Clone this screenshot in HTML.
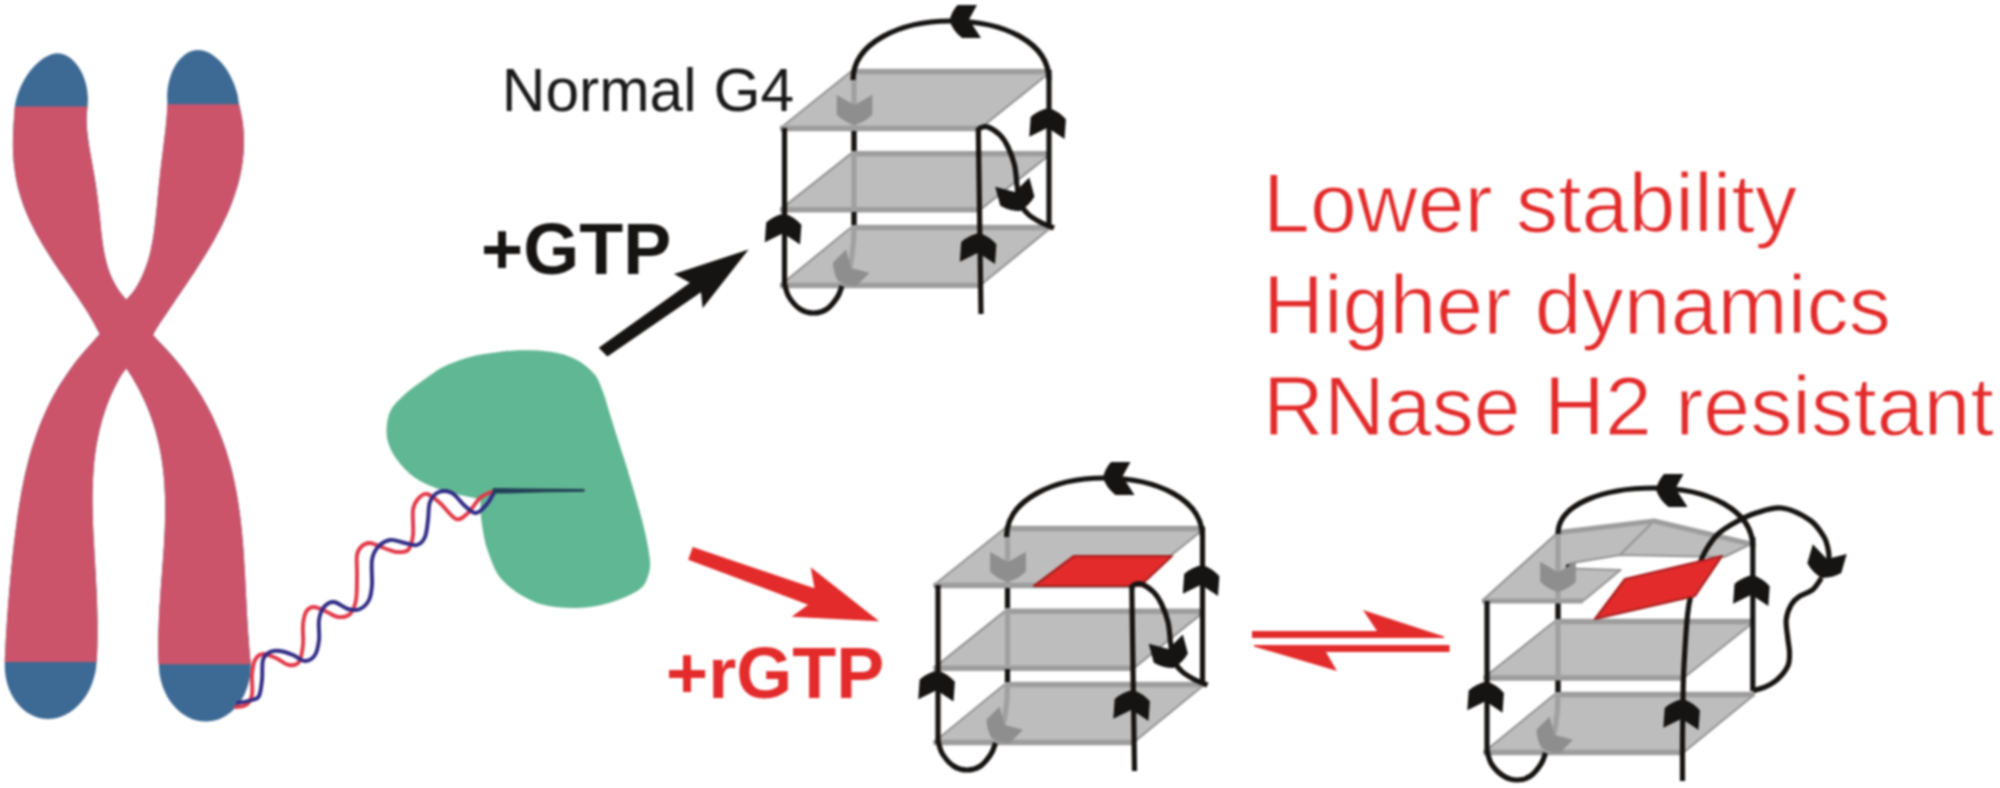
<!DOCTYPE html><html><head><meta charset="utf-8"><style>html,body{margin:0;padding:0;background:#fff;}svg{display:block;filter:blur(0.8px);}</style></head><body>
<svg width="2000" height="788" viewBox="0 0 2000 788">
<rect width="2000" height="788" fill="#fff"/>
<defs><clipPath id="cpink"><rect x="0" y="106.5" width="126.5" height="555.5"/><rect x="126.5" y="104.3" width="180" height="560"/></clipPath></defs>
<path d="M57.7,53.2C56.7,53.4 53.8,53.6 51.6,54.3C49.5,55.1 47,56.2 44.6,57.6C42.3,59.1 39.9,60.9 37.6,63C35.3,65.1 33,67.5 30.9,70.1C28.8,72.7 26.8,75.6 25,78.5C23.2,81.5 21.5,84.7 20.2,87.8C18.8,91 17.6,94.4 16.7,97.4C15.8,100.4 15.3,103.2 14.9,106C14.5,108.8 14.5,111.4 14.3,114.1C14.1,116.9 13.9,119.6 13.7,122.3C13.5,125 13.4,127.7 13.3,130.4C13.1,133.1 13,135.9 13,138.6C12.9,141.3 12.9,144 12.9,146.7C13,149.4 13.1,152.1 13.2,154.9C13.3,157.6 13.5,160.3 13.8,163C14.1,165.7 14.4,168.4 14.8,171.1C15.2,173.9 15.6,176.6 16.1,179.3C16.7,182 17.3,184.7 17.9,187.4C18.6,190.1 19.4,192.9 20.2,195.6C21,198.3 21.9,201 22.8,203.7C23.8,206.4 24.9,209.1 26,211.9C27.1,214.6 28.3,217.3 29.5,220C30.8,222.7 32.1,225.4 33.5,228.1C34.8,230.9 36.3,233.6 37.8,236.3C39.3,239 40.9,241.7 42.5,244.4C44.1,247.1 45.8,249.9 47.5,252.6C49.2,255.3 50.9,258 52.7,260.7C54.5,263.4 56.3,266.1 58.2,268.9C60,271.6 61.9,274.3 63.8,277C65.6,279.7 67.5,282.4 69.4,285.1C71.3,287.9 73.2,290.6 75,293.3C76.9,296 78.7,298.7 80.5,301.4C82.3,304.1 84.1,306.9 85.8,309.6C87.6,312.3 89.2,315 90.8,317.7C92.4,320.4 93.9,323.1 95.4,325.9C96.9,328.6 99,332.6 99.7,334C98.5,335.4 95,339.5 92.5,342.2C90.1,344.9 87.5,347.6 85.1,350.4C82.7,353.1 80.5,355.8 78.3,358.6C76.1,361.3 74,364 72,366.7C70,369.5 68,372.2 66.2,374.9C64.3,377.7 62.6,380.4 60.9,383.1C59.2,385.8 57.5,388.6 56,391.3C54.4,394 52.9,396.8 51.5,399.5C50.1,402.2 48.7,404.9 47.4,407.7C46.1,410.4 44.9,413.1 43.7,415.9C42.5,418.6 41.4,421.3 40.3,424C39.2,426.8 38.2,429.5 37.2,432.2C36.2,434.9 35.3,437.7 34.4,440.4C33.5,443.1 32.6,445.9 31.8,448.6C31,451.3 30.2,454 29.4,456.8C28.7,459.5 28,462.2 27.3,465C26.6,467.7 26,470.4 25.3,473.1C24.7,475.9 24.1,478.6 23.6,481.3C23,484.1 22.5,486.8 21.9,489.5C21.4,492.2 20.9,495 20.5,497.7C20,500.4 19.5,503.2 19.1,505.9C18.6,508.6 18.2,511.3 17.8,514.1C17.4,516.8 17,519.5 16.7,522.3C16.3,525 15.9,527.7 15.6,530.4C15.2,533.2 14.9,535.9 14.6,538.6C14.2,541.4 13.9,544.1 13.6,546.8C13.3,549.5 13,552.3 12.7,555C12.4,557.7 12.1,560.5 11.9,563.2C11.6,565.9 11.3,568.6 11.1,571.4C10.8,574.1 10.6,576.8 10.3,579.5C10.1,582.3 9.8,585 9.6,587.7C9.3,590.5 9.1,593.2 8.9,595.9C8.7,598.6 8.4,601.4 8.2,604.1C8,606.8 7.8,609.6 7.6,612.3C7.4,615 7.2,617.7 7,620.5C6.8,623.2 6.6,625.9 6.5,628.7C6.3,631.4 6.1,634.1 6,636.8C5.8,639.6 5.7,642.3 5.5,645C5.4,647.8 5.2,650.5 5.1,653.2C5,655.9 4.8,658.2 4.8,661.4C4.8,664.6 4.7,669 5.1,672.6C5.5,676.3 6.2,680 7.2,683.4C8.2,686.9 9.5,690.3 11,693.4C12.5,696.5 14.3,699.5 16.3,702.1C18.3,704.8 20.5,707.2 22.9,709.3C25.3,711.4 27.9,713.2 30.6,714.6C33.3,716 36.2,717.2 39.1,717.9C42,718.6 45,719 48,719C51,719 54.1,718.6 57,717.9C60,717.2 63,716 65.8,714.6C68.6,713.2 71.4,711.4 74,709.3C76.6,707.2 79.1,704.8 81.3,702.1C83.5,699.5 85.6,696.5 87.4,693.4C89.2,690.3 90.8,686.9 92.1,683.4C93.4,680 94.5,676.3 95.3,672.6C96,669 96.4,664.6 96.7,661.4C97,658.2 97,656 97.1,653.3C97.2,650.5 97.3,647.8 97.4,645.1C97.4,642.4 97.5,639.7 97.5,637C97.5,634.3 97.5,631.5 97.5,628.8C97.5,626.1 97.5,623.4 97.5,620.7C97.4,618 97.4,615.2 97.3,612.5C97.3,609.8 97.2,607.1 97.1,604.4C97,601.7 96.9,599 96.8,596.2C96.7,593.5 96.5,590.8 96.4,588.1C96.3,585.4 96.1,582.7 96,580C95.9,577.2 95.7,574.5 95.6,571.8C95.4,569.1 95.2,566.4 95.1,563.7C94.9,561 94.8,558.2 94.6,555.5C94.5,552.8 94.3,550.1 94.2,547.4C94,544.7 93.9,541.9 93.7,539.2C93.6,536.5 93.4,533.8 93.3,531.1C93.2,528.4 93.1,525.7 93,522.9C92.9,520.2 92.8,517.5 92.7,514.8C92.7,512.1 92.6,509.4 92.6,506.7C92.5,503.9 92.5,501.2 92.5,498.5C92.5,495.8 92.6,493.1 92.6,490.4C92.7,487.7 92.8,484.9 92.9,482.2C93,479.5 93.1,476.8 93.3,474.1C93.5,471.4 93.7,468.6 93.9,465.9C94.1,463.2 94.4,460.5 94.7,457.8C95.1,455.1 95.4,452.4 95.8,449.6C96.2,446.9 96.7,444.2 97.2,441.5C97.7,438.8 98.2,436.1 98.8,433.4C99.4,430.6 100.1,427.9 100.8,425.2C101.5,422.5 102.2,419.8 103.1,417.1C103.9,414.4 104.8,411.6 105.7,408.9C106.7,406.2 107.7,403.5 108.8,400.8C109.9,398.1 111,395.3 112.3,392.6C113.5,389.9 114.8,387.2 116.2,384.5C117.6,381.8 118.9,379.1 120.6,376.3C122.3,373.6 125.3,369.6 126.3,368.2C127.2,369.5 129.8,373.5 131.5,376.2C133.1,378.9 134.6,381.5 136.1,384.2C137.6,386.9 139,389.5 140.4,392.2C141.7,394.9 143,397.6 144.2,400.2C145.4,402.9 146.6,405.6 147.7,408.2C148.8,410.9 149.8,413.6 150.7,416.2C151.7,418.9 152.6,421.6 153.5,424.2C154.3,426.9 155.1,429.6 155.9,432.2C156.6,434.9 157.3,437.6 157.9,440.2C158.6,442.9 159.1,445.6 159.7,448.3C160.2,450.9 160.7,453.6 161.2,456.3C161.6,458.9 162,461.6 162.4,464.3C162.8,466.9 163.1,469.6 163.4,472.3C163.7,474.9 163.9,477.6 164.1,480.3C164.3,482.9 164.5,485.6 164.6,488.3C164.8,490.9 164.9,493.6 165,496.3C165.1,499 165.1,501.6 165.2,504.3C165.2,507 165.2,509.6 165.2,512.3C165.1,515 165.1,517.6 165,520.3C165,523 164.9,525.6 164.8,528.3C164.7,531 164.6,533.6 164.4,536.3C164.3,539 164.2,541.7 164,544.3C163.8,547 163.7,549.7 163.5,552.3C163.3,555 163.1,557.7 162.9,560.3C162.7,563 162.5,565.7 162.3,568.3C162.1,571 161.9,573.7 161.7,576.3C161.5,579 161.3,581.7 161.1,584.3C160.9,587 160.7,589.7 160.5,592.4C160.3,595 160.1,597.7 160,600.4C159.8,603 159.6,605.7 159.4,608.4C159.3,611 159.1,613.7 159,616.4C158.9,619 158.8,621.7 158.7,624.4C158.6,627 158.5,629.7 158.4,632.4C158.3,635 158.3,637.7 158.3,640.4C158.3,643.1 158.3,645.7 158.3,648.4C158.3,651.1 158.4,653.7 158.4,656.4C158.5,659.1 158.5,661.2 158.8,664.4C159,667.6 159.2,671.9 159.8,675.6C160.5,679.2 161.4,682.9 162.6,686.3C163.8,689.7 165.3,693.1 167,696.2C168.8,699.3 170.7,702.2 172.9,704.8C175.1,707.5 177.5,709.9 180,712C182.5,714 185.2,715.8 188,717.2C190.8,718.7 193.8,719.8 196.7,720.5C199.7,721.2 202.7,721.6 205.7,721.6C208.7,721.6 211.7,721.2 214.7,720.5C217.6,719.8 220.5,718.7 223.2,717.2C226,715.8 228.7,714 231.1,712C233.6,709.9 235.9,707.5 238,704.8C240,702.2 241.9,699.3 243.6,696.2C245.2,693.1 246.6,689.7 247.6,686.3C248.7,682.9 249.6,679.2 250.1,675.6C250.6,671.9 250.8,667.6 250.8,664.4C250.8,661.2 250.3,659 250,656.4C249.8,653.7 249.5,651 249.3,648.3C249.1,645.7 248.9,643 248.7,640.3C248.5,637.6 248.3,634.9 248.1,632.3C247.9,629.6 247.8,626.9 247.6,624.2C247.4,621.6 247.3,618.9 247.1,616.2C247,613.5 246.8,610.8 246.7,608.2C246.6,605.5 246.4,602.8 246.3,600.1C246.1,597.4 246,594.8 245.9,592.1C245.7,589.4 245.6,586.7 245.5,584.1C245.3,581.4 245.2,578.7 245.1,576C244.9,573.3 244.8,570.7 244.6,568C244.4,565.3 244.3,562.6 244.1,560C243.9,557.3 243.8,554.6 243.6,551.9C243.4,549.2 243.2,546.6 243,543.9C242.7,541.2 242.5,538.5 242.3,535.9C242,533.2 241.8,530.5 241.5,527.8C241.2,525.1 240.9,522.5 240.6,519.8C240.3,517.1 239.9,514.4 239.6,511.8C239.2,509.1 238.8,506.4 238.4,503.7C238,501 237.6,498.4 237.1,495.7C236.6,493 236.1,490.3 235.6,487.6C235.1,485 234.5,482.3 233.9,479.6C233.3,476.9 232.7,474.3 232.1,471.6C231.4,468.9 230.7,466.2 230,463.5C229.2,460.9 228.5,458.2 227.6,455.5C226.8,452.8 226,450.2 225.1,447.5C224.2,444.8 223.2,442.1 222.2,439.4C221.2,436.8 220.2,434.1 219.1,431.4C218,428.7 216.8,426.1 215.6,423.4C214.4,420.7 213.2,418 211.9,415.3C210.6,412.7 209.2,410 207.8,407.3C206.3,404.6 204.9,402 203.3,399.3C201.8,396.6 200.2,393.9 198.5,391.2C196.8,388.6 195.1,385.9 193.2,383.2C191.4,380.5 189.6,377.8 187.6,375.2C185.6,372.5 183.6,369.8 181.5,367.1C179.4,364.5 177.2,361.8 175,359.1C172.7,356.4 170.4,353.7 168,351.1C165.5,348.4 162.9,345.7 160.4,343C158,340.4 154.2,336.3 153,335C153.8,333.6 156,329.5 157.7,326.8C159.4,324 161.3,321.2 163.1,318.5C165,315.8 166.8,313 168.7,310.2C170.5,307.5 172.4,304.8 174.3,302C176.1,299.2 178,296.5 179.9,293.8C181.8,291 183.6,288.2 185.5,285.5C187.3,282.8 189.2,280 191,277.2C192.9,274.5 194.7,271.8 196.5,269C198.2,266.2 200,263.5 201.7,260.8C203.5,258 205.2,255.2 206.8,252.5C208.5,249.8 210.1,247 211.7,244.2C213.3,241.5 214.8,238.8 216.3,236C217.8,233.2 219.3,230.5 220.7,227.8C222.1,225 223.5,222.2 224.7,219.5C226,216.8 227.3,214 228.5,211.2C229.6,208.5 230.8,205.8 231.8,203C232.9,200.2 233.9,197.5 234.8,194.8C235.7,192 236.6,189.2 237.4,186.5C238.2,183.8 238.9,181 239.6,178.2C240.2,175.5 240.8,172.8 241.3,170C241.8,167.2 242.3,164.5 242.6,161.8C243,159 243.3,156.2 243.5,153.5C243.7,150.8 243.9,148 243.9,145.2C244,142.5 244,139.8 243.9,137C243.8,134.2 243.6,131.5 243.4,128.8C243.1,126 242.8,123.2 242.4,120.5C242,117.8 241.5,115 240.9,112.2C240.4,109.5 239.6,107 239,104C238.4,101 238.2,97.6 237.4,94.3C236.6,91.1 235.5,87.6 234.3,84.4C233,81.1 231.5,77.9 229.9,74.9C228.3,71.9 226.4,69.1 224.5,66.5C222.5,63.9 220.4,61.6 218.2,59.5C216.1,57.5 213.7,55.7 211.5,54.3C209.2,52.9 206.8,51.8 204.5,51.1C202.3,50.4 200.1,50 198,50C195.9,50 193.8,50.4 191.7,51.1C189.6,51.8 187.4,52.9 185.4,54.3C183.4,55.7 181.4,57.5 179.6,59.5C177.8,61.6 176.2,63.9 174.7,66.5C173.3,69.1 171.9,71.9 170.9,74.9C169.8,77.9 169,81.1 168.3,84.4C167.7,87.6 167.3,91.1 167.2,94.3C167,97.6 167.4,101 167.4,104C167.3,107 167.2,109.4 167,112.2C166.8,114.9 166.6,117.6 166.4,120.3C166.1,123 165.9,125.7 165.6,128.5C165.3,131.2 165,133.9 164.6,136.6C164.3,139.3 164,142.1 163.6,144.8C163.3,147.5 162.9,150.2 162.6,152.9C162.3,155.6 161.9,158.4 161.6,161.1C161.3,163.8 160.9,166.5 160.6,169.2C160.3,172 160,174.7 159.7,177.4C159.4,180.1 159.1,182.8 158.8,185.5C158.6,188.3 158.3,191 158,193.7C157.8,196.4 157.5,199.1 157.3,201.8C157,204.6 156.7,207.3 156.5,210C156.2,212.7 155.9,215.4 155.6,218.2C155.3,220.9 155,223.6 154.7,226.3C154.4,229 154,231.7 153.6,234.5C153.2,237.2 152.8,239.9 152.2,242.6C151.7,245.3 151.2,248.1 150.6,250.8C149.9,253.5 149.3,256.2 148.5,258.9C147.7,261.6 146.8,264.4 145.8,267.1C144.8,269.8 143.8,272.5 142.5,275.2C141.3,278 139.9,280.7 138.4,283.4C136.9,286.1 135.4,288.8 133.4,291.5C131.4,294.3 127.5,298.3 126.3,299.7C125.2,298.4 121.6,294.3 119.6,291.6C117.7,288.9 116.1,286.2 114.7,283.6C113.2,280.9 112,278.2 110.8,275.5C109.7,272.8 108.7,270.1 107.9,267.4C107,264.7 106.3,262 105.7,259.3C105,256.7 104.5,254 104,251.3C103.5,248.6 103.1,245.9 102.7,243.2C102.3,240.5 102,237.8 101.7,235.1C101.3,232.4 101.1,229.8 100.8,227.1C100.5,224.4 100.2,221.7 100,219C99.7,216.3 99.4,213.6 99.1,210.9C98.8,208.2 98.5,205.5 98.2,202.8C97.9,200.2 97.6,197.5 97.2,194.8C96.8,192.1 96.5,189.4 96.1,186.7C95.7,184 95.2,181.3 94.8,178.6C94.4,175.9 93.9,173.3 93.4,170.6C93,167.9 92.5,165.2 92,162.5C91.5,159.8 91,157.1 90.6,154.4C90.1,151.7 89.6,149 89.2,146.4C88.8,143.7 88.4,141 88,138.3C87.7,135.6 87.4,132.9 87.1,130.2C86.9,127.5 86.7,124.8 86.7,122.1C86.6,119.5 86.6,116.8 86.8,114.1C86.9,111.4 87.4,108.8 87.6,106C87.8,103.2 88,100.4 87.9,97.4C87.7,94.4 87.4,91 86.8,87.8C86.2,84.7 85.3,81.5 84.2,78.5C83.2,75.6 81.8,72.7 80.4,70.1C78.9,67.5 77.2,65.1 75.4,63C73.6,60.9 71.7,59.1 69.7,57.6C67.7,56.2 65.5,55.1 63.5,54.3C61.5,53.6 58.7,53.4 57.7,53.2Z" fill="#3d6a94"/>
<path d="M57.7,53.2C56.7,53.4 53.8,53.6 51.6,54.3C49.5,55.1 47,56.2 44.6,57.6C42.3,59.1 39.9,60.9 37.6,63C35.3,65.1 33,67.5 30.9,70.1C28.8,72.7 26.8,75.6 25,78.5C23.2,81.5 21.5,84.7 20.2,87.8C18.8,91 17.6,94.4 16.7,97.4C15.8,100.4 15.3,103.2 14.9,106C14.5,108.8 14.5,111.4 14.3,114.1C14.1,116.9 13.9,119.6 13.7,122.3C13.5,125 13.4,127.7 13.3,130.4C13.1,133.1 13,135.9 13,138.6C12.9,141.3 12.9,144 12.9,146.7C13,149.4 13.1,152.1 13.2,154.9C13.3,157.6 13.5,160.3 13.8,163C14.1,165.7 14.4,168.4 14.8,171.1C15.2,173.9 15.6,176.6 16.1,179.3C16.7,182 17.3,184.7 17.9,187.4C18.6,190.1 19.4,192.9 20.2,195.6C21,198.3 21.9,201 22.8,203.7C23.8,206.4 24.9,209.1 26,211.9C27.1,214.6 28.3,217.3 29.5,220C30.8,222.7 32.1,225.4 33.5,228.1C34.8,230.9 36.3,233.6 37.8,236.3C39.3,239 40.9,241.7 42.5,244.4C44.1,247.1 45.8,249.9 47.5,252.6C49.2,255.3 50.9,258 52.7,260.7C54.5,263.4 56.3,266.1 58.2,268.9C60,271.6 61.9,274.3 63.8,277C65.6,279.7 67.5,282.4 69.4,285.1C71.3,287.9 73.2,290.6 75,293.3C76.9,296 78.7,298.7 80.5,301.4C82.3,304.1 84.1,306.9 85.8,309.6C87.6,312.3 89.2,315 90.8,317.7C92.4,320.4 93.9,323.1 95.4,325.9C96.9,328.6 99,332.6 99.7,334C98.5,335.4 95,339.5 92.5,342.2C90.1,344.9 87.5,347.6 85.1,350.4C82.7,353.1 80.5,355.8 78.3,358.6C76.1,361.3 74,364 72,366.7C70,369.5 68,372.2 66.2,374.9C64.3,377.7 62.6,380.4 60.9,383.1C59.2,385.8 57.5,388.6 56,391.3C54.4,394 52.9,396.8 51.5,399.5C50.1,402.2 48.7,404.9 47.4,407.7C46.1,410.4 44.9,413.1 43.7,415.9C42.5,418.6 41.4,421.3 40.3,424C39.2,426.8 38.2,429.5 37.2,432.2C36.2,434.9 35.3,437.7 34.4,440.4C33.5,443.1 32.6,445.9 31.8,448.6C31,451.3 30.2,454 29.4,456.8C28.7,459.5 28,462.2 27.3,465C26.6,467.7 26,470.4 25.3,473.1C24.7,475.9 24.1,478.6 23.6,481.3C23,484.1 22.5,486.8 21.9,489.5C21.4,492.2 20.9,495 20.5,497.7C20,500.4 19.5,503.2 19.1,505.9C18.6,508.6 18.2,511.3 17.8,514.1C17.4,516.8 17,519.5 16.7,522.3C16.3,525 15.9,527.7 15.6,530.4C15.2,533.2 14.9,535.9 14.6,538.6C14.2,541.4 13.9,544.1 13.6,546.8C13.3,549.5 13,552.3 12.7,555C12.4,557.7 12.1,560.5 11.9,563.2C11.6,565.9 11.3,568.6 11.1,571.4C10.8,574.1 10.6,576.8 10.3,579.5C10.1,582.3 9.8,585 9.6,587.7C9.3,590.5 9.1,593.2 8.9,595.9C8.7,598.6 8.4,601.4 8.2,604.1C8,606.8 7.8,609.6 7.6,612.3C7.4,615 7.2,617.7 7,620.5C6.8,623.2 6.6,625.9 6.5,628.7C6.3,631.4 6.1,634.1 6,636.8C5.8,639.6 5.7,642.3 5.5,645C5.4,647.8 5.2,650.5 5.1,653.2C5,655.9 4.8,658.2 4.8,661.4C4.8,664.6 4.7,669 5.1,672.6C5.5,676.3 6.2,680 7.2,683.4C8.2,686.9 9.5,690.3 11,693.4C12.5,696.5 14.3,699.5 16.3,702.1C18.3,704.8 20.5,707.2 22.9,709.3C25.3,711.4 27.9,713.2 30.6,714.6C33.3,716 36.2,717.2 39.1,717.9C42,718.6 45,719 48,719C51,719 54.1,718.6 57,717.9C60,717.2 63,716 65.8,714.6C68.6,713.2 71.4,711.4 74,709.3C76.6,707.2 79.1,704.8 81.3,702.1C83.5,699.5 85.6,696.5 87.4,693.4C89.2,690.3 90.8,686.9 92.1,683.4C93.4,680 94.5,676.3 95.3,672.6C96,669 96.4,664.6 96.7,661.4C97,658.2 97,656 97.1,653.3C97.2,650.5 97.3,647.8 97.4,645.1C97.4,642.4 97.5,639.7 97.5,637C97.5,634.3 97.5,631.5 97.5,628.8C97.5,626.1 97.5,623.4 97.5,620.7C97.4,618 97.4,615.2 97.3,612.5C97.3,609.8 97.2,607.1 97.1,604.4C97,601.7 96.9,599 96.8,596.2C96.7,593.5 96.5,590.8 96.4,588.1C96.3,585.4 96.1,582.7 96,580C95.9,577.2 95.7,574.5 95.6,571.8C95.4,569.1 95.2,566.4 95.1,563.7C94.9,561 94.8,558.2 94.6,555.5C94.5,552.8 94.3,550.1 94.2,547.4C94,544.7 93.9,541.9 93.7,539.2C93.6,536.5 93.4,533.8 93.3,531.1C93.2,528.4 93.1,525.7 93,522.9C92.9,520.2 92.8,517.5 92.7,514.8C92.7,512.1 92.6,509.4 92.6,506.7C92.5,503.9 92.5,501.2 92.5,498.5C92.5,495.8 92.6,493.1 92.6,490.4C92.7,487.7 92.8,484.9 92.9,482.2C93,479.5 93.1,476.8 93.3,474.1C93.5,471.4 93.7,468.6 93.9,465.9C94.1,463.2 94.4,460.5 94.7,457.8C95.1,455.1 95.4,452.4 95.8,449.6C96.2,446.9 96.7,444.2 97.2,441.5C97.7,438.8 98.2,436.1 98.8,433.4C99.4,430.6 100.1,427.9 100.8,425.2C101.5,422.5 102.2,419.8 103.1,417.1C103.9,414.4 104.8,411.6 105.7,408.9C106.7,406.2 107.7,403.5 108.8,400.8C109.9,398.1 111,395.3 112.3,392.6C113.5,389.9 114.8,387.2 116.2,384.5C117.6,381.8 118.9,379.1 120.6,376.3C122.3,373.6 125.3,369.6 126.3,368.2C127.2,369.5 129.8,373.5 131.5,376.2C133.1,378.9 134.6,381.5 136.1,384.2C137.6,386.9 139,389.5 140.4,392.2C141.7,394.9 143,397.6 144.2,400.2C145.4,402.9 146.6,405.6 147.7,408.2C148.8,410.9 149.8,413.6 150.7,416.2C151.7,418.9 152.6,421.6 153.5,424.2C154.3,426.9 155.1,429.6 155.9,432.2C156.6,434.9 157.3,437.6 157.9,440.2C158.6,442.9 159.1,445.6 159.7,448.3C160.2,450.9 160.7,453.6 161.2,456.3C161.6,458.9 162,461.6 162.4,464.3C162.8,466.9 163.1,469.6 163.4,472.3C163.7,474.9 163.9,477.6 164.1,480.3C164.3,482.9 164.5,485.6 164.6,488.3C164.8,490.9 164.9,493.6 165,496.3C165.1,499 165.1,501.6 165.2,504.3C165.2,507 165.2,509.6 165.2,512.3C165.1,515 165.1,517.6 165,520.3C165,523 164.9,525.6 164.8,528.3C164.7,531 164.6,533.6 164.4,536.3C164.3,539 164.2,541.7 164,544.3C163.8,547 163.7,549.7 163.5,552.3C163.3,555 163.1,557.7 162.9,560.3C162.7,563 162.5,565.7 162.3,568.3C162.1,571 161.9,573.7 161.7,576.3C161.5,579 161.3,581.7 161.1,584.3C160.9,587 160.7,589.7 160.5,592.4C160.3,595 160.1,597.7 160,600.4C159.8,603 159.6,605.7 159.4,608.4C159.3,611 159.1,613.7 159,616.4C158.9,619 158.8,621.7 158.7,624.4C158.6,627 158.5,629.7 158.4,632.4C158.3,635 158.3,637.7 158.3,640.4C158.3,643.1 158.3,645.7 158.3,648.4C158.3,651.1 158.4,653.7 158.4,656.4C158.5,659.1 158.5,661.2 158.8,664.4C159,667.6 159.2,671.9 159.8,675.6C160.5,679.2 161.4,682.9 162.6,686.3C163.8,689.7 165.3,693.1 167,696.2C168.8,699.3 170.7,702.2 172.9,704.8C175.1,707.5 177.5,709.9 180,712C182.5,714 185.2,715.8 188,717.2C190.8,718.7 193.8,719.8 196.7,720.5C199.7,721.2 202.7,721.6 205.7,721.6C208.7,721.6 211.7,721.2 214.7,720.5C217.6,719.8 220.5,718.7 223.2,717.2C226,715.8 228.7,714 231.1,712C233.6,709.9 235.9,707.5 238,704.8C240,702.2 241.9,699.3 243.6,696.2C245.2,693.1 246.6,689.7 247.6,686.3C248.7,682.9 249.6,679.2 250.1,675.6C250.6,671.9 250.8,667.6 250.8,664.4C250.8,661.2 250.3,659 250,656.4C249.8,653.7 249.5,651 249.3,648.3C249.1,645.7 248.9,643 248.7,640.3C248.5,637.6 248.3,634.9 248.1,632.3C247.9,629.6 247.8,626.9 247.6,624.2C247.4,621.6 247.3,618.9 247.1,616.2C247,613.5 246.8,610.8 246.7,608.2C246.6,605.5 246.4,602.8 246.3,600.1C246.1,597.4 246,594.8 245.9,592.1C245.7,589.4 245.6,586.7 245.5,584.1C245.3,581.4 245.2,578.7 245.1,576C244.9,573.3 244.8,570.7 244.6,568C244.4,565.3 244.3,562.6 244.1,560C243.9,557.3 243.8,554.6 243.6,551.9C243.4,549.2 243.2,546.6 243,543.9C242.7,541.2 242.5,538.5 242.3,535.9C242,533.2 241.8,530.5 241.5,527.8C241.2,525.1 240.9,522.5 240.6,519.8C240.3,517.1 239.9,514.4 239.6,511.8C239.2,509.1 238.8,506.4 238.4,503.7C238,501 237.6,498.4 237.1,495.7C236.6,493 236.1,490.3 235.6,487.6C235.1,485 234.5,482.3 233.9,479.6C233.3,476.9 232.7,474.3 232.1,471.6C231.4,468.9 230.7,466.2 230,463.5C229.2,460.9 228.5,458.2 227.6,455.5C226.8,452.8 226,450.2 225.1,447.5C224.2,444.8 223.2,442.1 222.2,439.4C221.2,436.8 220.2,434.1 219.1,431.4C218,428.7 216.8,426.1 215.6,423.4C214.4,420.7 213.2,418 211.9,415.3C210.6,412.7 209.2,410 207.8,407.3C206.3,404.6 204.9,402 203.3,399.3C201.8,396.6 200.2,393.9 198.5,391.2C196.8,388.6 195.1,385.9 193.2,383.2C191.4,380.5 189.6,377.8 187.6,375.2C185.6,372.5 183.6,369.8 181.5,367.1C179.4,364.5 177.2,361.8 175,359.1C172.7,356.4 170.4,353.7 168,351.1C165.5,348.4 162.9,345.7 160.4,343C158,340.4 154.2,336.3 153,335C153.8,333.6 156,329.5 157.7,326.8C159.4,324 161.3,321.2 163.1,318.5C165,315.8 166.8,313 168.7,310.2C170.5,307.5 172.4,304.8 174.3,302C176.1,299.2 178,296.5 179.9,293.8C181.8,291 183.6,288.2 185.5,285.5C187.3,282.8 189.2,280 191,277.2C192.9,274.5 194.7,271.8 196.5,269C198.2,266.2 200,263.5 201.7,260.8C203.5,258 205.2,255.2 206.8,252.5C208.5,249.8 210.1,247 211.7,244.2C213.3,241.5 214.8,238.8 216.3,236C217.8,233.2 219.3,230.5 220.7,227.8C222.1,225 223.5,222.2 224.7,219.5C226,216.8 227.3,214 228.5,211.2C229.6,208.5 230.8,205.8 231.8,203C232.9,200.2 233.9,197.5 234.8,194.8C235.7,192 236.6,189.2 237.4,186.5C238.2,183.8 238.9,181 239.6,178.2C240.2,175.5 240.8,172.8 241.3,170C241.8,167.2 242.3,164.5 242.6,161.8C243,159 243.3,156.2 243.5,153.5C243.7,150.8 243.9,148 243.9,145.2C244,142.5 244,139.8 243.9,137C243.8,134.2 243.6,131.5 243.4,128.8C243.1,126 242.8,123.2 242.4,120.5C242,117.8 241.5,115 240.9,112.2C240.4,109.5 239.6,107 239,104C238.4,101 238.2,97.6 237.4,94.3C236.6,91.1 235.5,87.6 234.3,84.4C233,81.1 231.5,77.9 229.9,74.9C228.3,71.9 226.4,69.1 224.5,66.5C222.5,63.9 220.4,61.6 218.2,59.5C216.1,57.5 213.7,55.7 211.5,54.3C209.2,52.9 206.8,51.8 204.5,51.1C202.3,50.4 200.1,50 198,50C195.9,50 193.8,50.4 191.7,51.1C189.6,51.8 187.4,52.9 185.4,54.3C183.4,55.7 181.4,57.5 179.6,59.5C177.8,61.6 176.2,63.9 174.7,66.5C173.3,69.1 171.9,71.9 170.9,74.9C169.8,77.9 169,81.1 168.3,84.4C167.7,87.6 167.3,91.1 167.2,94.3C167,97.6 167.4,101 167.4,104C167.3,107 167.2,109.4 167,112.2C166.8,114.9 166.6,117.6 166.4,120.3C166.1,123 165.9,125.7 165.6,128.5C165.3,131.2 165,133.9 164.6,136.6C164.3,139.3 164,142.1 163.6,144.8C163.3,147.5 162.9,150.2 162.6,152.9C162.3,155.6 161.9,158.4 161.6,161.1C161.3,163.8 160.9,166.5 160.6,169.2C160.3,172 160,174.7 159.7,177.4C159.4,180.1 159.1,182.8 158.8,185.5C158.6,188.3 158.3,191 158,193.7C157.8,196.4 157.5,199.1 157.3,201.8C157,204.6 156.7,207.3 156.5,210C156.2,212.7 155.9,215.4 155.6,218.2C155.3,220.9 155,223.6 154.7,226.3C154.4,229 154,231.7 153.6,234.5C153.2,237.2 152.8,239.9 152.2,242.6C151.7,245.3 151.2,248.1 150.6,250.8C149.9,253.5 149.3,256.2 148.5,258.9C147.7,261.6 146.8,264.4 145.8,267.1C144.8,269.8 143.8,272.5 142.5,275.2C141.3,278 139.9,280.7 138.4,283.4C136.9,286.1 135.4,288.8 133.4,291.5C131.4,294.3 127.5,298.3 126.3,299.7C125.2,298.4 121.6,294.3 119.6,291.6C117.7,288.9 116.1,286.2 114.7,283.6C113.2,280.9 112,278.2 110.8,275.5C109.7,272.8 108.7,270.1 107.9,267.4C107,264.7 106.3,262 105.7,259.3C105,256.7 104.5,254 104,251.3C103.5,248.6 103.1,245.9 102.7,243.2C102.3,240.5 102,237.8 101.7,235.1C101.3,232.4 101.1,229.8 100.8,227.1C100.5,224.4 100.2,221.7 100,219C99.7,216.3 99.4,213.6 99.1,210.9C98.8,208.2 98.5,205.5 98.2,202.8C97.9,200.2 97.6,197.5 97.2,194.8C96.8,192.1 96.5,189.4 96.1,186.7C95.7,184 95.2,181.3 94.8,178.6C94.4,175.9 93.9,173.3 93.4,170.6C93,167.9 92.5,165.2 92,162.5C91.5,159.8 91,157.1 90.6,154.4C90.1,151.7 89.6,149 89.2,146.4C88.8,143.7 88.4,141 88,138.3C87.7,135.6 87.4,132.9 87.1,130.2C86.9,127.5 86.7,124.8 86.7,122.1C86.6,119.5 86.6,116.8 86.8,114.1C86.9,111.4 87.4,108.8 87.6,106C87.8,103.2 88,100.4 87.9,97.4C87.7,94.4 87.4,91 86.8,87.8C86.2,84.7 85.3,81.5 84.2,78.5C83.2,75.6 81.8,72.7 80.4,70.1C78.9,67.5 77.2,65.1 75.4,63C73.6,60.9 71.7,59.1 69.7,57.6C67.7,56.2 65.5,55.1 63.5,54.3C61.5,53.6 58.7,53.4 57.7,53.2Z" fill="#cb546b" clip-path="url(#cpink)"/>
<path d="M480.4,499.3C476.3,498.4 463.4,495.8 456,494C448.6,492.2 443.3,491.1 436.3,488.3C429.3,485.5 420.6,481.8 414.2,477.2C407.8,472.6 402.2,466.4 398,461C393.8,455.6 390.9,450.3 389,445C387.1,439.7 386.3,435.2 386.6,429.4C386.9,423.6 387.6,416.1 391,410C394.4,403.9 401.1,397.8 406.8,392.6C412.5,387.4 418.9,383.3 425,379C431.1,374.7 436.1,370.5 443.6,366.8C451.1,363.1 460.8,359.5 470,357C479.2,354.5 489.7,353.1 498.8,352C507.9,350.9 515.7,350.2 524.6,350.2C533.5,350.2 543.4,350.5 552,352C560.6,353.5 568.9,355.7 576,359.4C583.1,363.1 590,368.8 594.5,374.2C599,379.6 600.6,385.9 603,392C605.4,398.1 606.5,403 609,411C611.5,419 614.9,430.2 618,440C621.1,449.8 623.5,456.3 627.6,469.9C631.7,483.5 638.7,506.7 642.4,521.4C646.1,536.1 648.8,549.1 649.7,558.2C650.6,567.3 649.8,570.7 648,576C646.2,581.3 645.2,585.5 638.7,590C632.2,594.5 619.5,600 609,603C598.5,606 588.2,608 576,607.9C563.8,607.8 547.9,607 535.6,602.4C523.4,597.8 510.5,588.9 502.5,580.3C494.5,571.7 491.3,560.6 487.8,550.8C484.3,541 482.7,530 481.5,521.4C480.3,512.8 480.6,503 480.4,499.3Z" fill="#60b794"/>
<path d="M236,707C237.7,706.7 243.3,707 246,705C248.7,703 251,700 252,695C253,690 251.5,680.8 252,675C252.5,669.2 253.2,663.5 255,660C256.8,656.5 259.5,654.3 263,654C266.5,653.7 271.7,656.2 276,658C280.3,659.8 285.2,664.3 289,665C292.8,665.7 296.7,665.3 299,662C301.3,658.7 302.3,651.2 303,645C303.7,638.8 302.5,630.5 303,625C303.5,619.5 304.2,615 306,612C307.8,609 310.5,607 314,607C317.5,607 323,610.3 327,612C331,613.7 334.2,616.7 338,617C341.8,617.3 347,616.8 350,614C353,611.2 354.8,606.5 356,600C357.2,593.5 356.8,582.5 357,575C357.2,567.5 356.2,559.8 357,555C357.8,550.2 359.8,548 362,546C364.2,544 366.3,542.7 370,543C373.7,543.3 379.7,546.5 384,548C388.3,549.5 392,551.7 396,552C400,552.3 405.2,552.8 408,550C410.8,547.2 412.2,541.7 413,535C413.8,528.3 412.2,516 413,510C413.8,504 415.7,501.7 418,499C420.3,496.3 423.3,493.3 427,494C430.7,494.7 435.2,498.8 440,503C444.8,507.2 451.3,517.3 456,519C460.7,520.7 464,516.5 468,513C472,509.5 476.2,501.5 480,498C483.8,494.5 489.2,493 491,492" stroke="#e33848" stroke-width="3.9" fill="none" stroke-linecap="round"/>
<path d="M238,703C240.3,702.5 248.5,701.2 252,700C255.5,698.8 257.3,699.3 259,696C260.7,692.7 261.3,686 262,680C262.7,674 261.7,664.7 263,660C264.3,655.3 267.2,653.5 270,652C272.8,650.5 276.2,650.5 280,651C283.8,651.5 288.8,653.3 293,655C297.2,656.7 301.3,661 305,661C308.7,661 312.7,658.5 315,655C317.3,651.5 318.3,645.8 319,640C319.7,634.2 318.2,625.5 319,620C319.8,614.5 321.5,610 324,607C326.5,604 330,601.7 334,602C338,602.3 343.7,607.8 348,609C352.3,610.2 356.5,610.5 360,609C363.5,607.5 367,604 369,600C371,596 371.5,591.7 372,585C372.5,578.3 371,566.3 372,560C373,553.7 375,550.3 378,547C381,543.7 385.5,540.7 390,540C394.5,539.3 400.5,542.2 405,543C409.5,543.8 413.7,546 417,545C420.3,544 423.2,541.2 425,537C426.8,532.8 427.2,525.8 428,520C428.8,514.2 428.2,506.7 430,502C431.8,497.3 435.3,493.5 439,492C442.7,490.5 447.7,490.7 452,493C456.3,495.3 461,502.7 465,506C469,509.3 472.3,513.3 476,513C479.7,512.7 483.8,507.7 487,504C490.2,500.3 493.7,493.2 495,491" stroke="#302a85" stroke-width="3.9" fill="none" stroke-linecap="round"/>
<path d="M493,488L584,489L585,490.3L584,491.8L545,492.3L500,493.6L492,493.5Z" fill="#223f55"/>
<path d="M598.7,347.8 L689.9,282.8 L674,274.1 L748.6,249.5 L702.6,308.2 L701,292.3 L607.4,356.6Z" fill="#161413"/>
<path d="M692.7,547 L814.5,588.2 L810.7,567.3 L879.2,621.2 L791.6,616.8 L808.1,604.7 L688.2,559.7Z" fill="#e32b2b"/>
<path d="M1252,631 L1377,631 L1363,610 L1444,636.5 L1444,638 L1252,638Z" fill="#e32b2b"/>
<path d="M1449.6,645 L1254,645 L1254,646.5 L1337,671 L1326,652 L1449.6,652Z" fill="#e32b2b"/>
<text x="501.7" y="110.5" font-family="Liberation Sans" font-size="60.5" fill="#1a1a1a">Normal G4</text>
<text x="481.1" y="273.5" font-family="Liberation Sans" font-weight="bold" font-size="72" fill="#161413">+GTP</text>
<text x="666.1" y="698" font-family="Liberation Sans" font-weight="bold" font-size="72" fill="#e32b2b">+rGTP</text>
<text x="1263" y="232.3" font-family="Liberation Sans" font-size="84.3" fill="#e32b2b" stroke="#fff" stroke-width="1.2">Lower stability</text>
<text x="1263" y="334" font-family="Liberation Sans" font-size="84.3" fill="#e32b2b" stroke="#fff" stroke-width="1.2">Higher dynamics</text>
<text x="1263" y="434.8" font-family="Liberation Sans" font-size="84.3" fill="#e32b2b" stroke="#fff" stroke-width="1.2">RNase H2 resistant</text>
<g id="g4a">
<path d="M780,128.5 L980,128.5 L1051,71.5 L851,71.5Z" fill="#bdbdbd"/>
<path d="M780,128.5L851,71.5M980,128.5L1051,71.5" stroke="#959595" stroke-width="2.2" fill="none"/>
<path d="M780,128.5H980M851,71.5H1051" stroke="#9d9d9d" stroke-width="5.5" fill="none"/>
<path d="M780,209.8 L980,209.8 L1051,153.7 L851,153.7Z" fill="#bdbdbd"/>
<path d="M780,209.8L851,153.7M980,209.8L1051,153.7" stroke="#959595" stroke-width="2.2" fill="none"/>
<path d="M780,209.8H980M851,153.7H1051" stroke="#9d9d9d" stroke-width="5.5" fill="none"/>
<path d="M780,285.5 L980,285.5 L1051,227.5 L851,227.5Z" fill="#bdbdbd"/>
<path d="M780,285.5L851,227.5M980,285.5L1051,227.5" stroke="#959595" stroke-width="2.2" fill="none"/>
<path d="M780,285.5H980M851,227.5H1051" stroke="#9d9d9d" stroke-width="5.5" fill="none"/>
<path d="M854,72V228C854,250 851,265 845,285" stroke="#a0a0a0" stroke-width="5.2" fill="none"/>
<path d="M854,131V151M854,212V225" stroke="#161413" stroke-width="5.2" fill="none"/>
<path d="M0,0Q9.5,2.5 16.5,9.5L16.5,28L0,18.4L-16.5,28L-16.5,9.5Q-9.5,2.5 0,0Z" fill="#8e8e8e" transform="translate(854.5,125) rotate(180) scale(1.08)"/>
<path d="M0,0Q9.5,2.5 16.5,9.5L16.5,28L0,18.4L-16.5,28L-16.5,9.5Q-9.5,2.5 0,0Z" fill="#8e8e8e" transform="translate(838,281) rotate(225) scale(1.0)"/>
<path d="M853,80C853,43 900,21 950,21C1005,21 1049,43 1049,80" stroke="#161413" stroke-width="5.2" fill="none"/>
<path d="M1049,70V228" stroke="#161413" stroke-width="5.2" fill="none"/>
<path d="M784.5,128V286" stroke="#161413" stroke-width="5.2" fill="none"/>
<path d="M784.5,284C785.2,286.2 786.4,292.8 789,297C791.6,301.2 795.9,306.3 800,309C804.1,311.7 809,313 813.5,313C818,313 823,311.7 827,309C831,306.3 835,300.8 837.5,297C840,293.2 841.2,287.8 842,286" stroke="#161413" stroke-width="5.2" fill="none"/>
<path d="M978.3,128L981,314" stroke="#161413" stroke-width="5.2" fill="none"/>
<path d="M978.3,132C978.6,131.3 978.4,128.8 980,128C981.6,127.2 984.7,125.8 988,127C991.3,128.2 996.7,131.7 1000,135C1003.3,138.3 1005.6,142 1008,147C1010.4,152 1013,158.7 1014.5,165C1016,171.3 1016.1,178.7 1017,185C1017.9,191.3 1018.2,198.2 1020,203C1021.8,207.8 1024.7,210.8 1028,214C1031.3,217.2 1035.7,219.7 1040,222C1044.3,224.3 1051.7,227 1054,228" stroke="#161413" stroke-width="5.2" fill="none"/>
<path d="M0,0Q2,-9 8,-15.5L27.5,-15.5L19.5,-1L31.5,17.5L12.5,17.5Q3,10 0,0Z" fill="#161413" transform="translate(949.5,20.5)"/>
<path d="M0,0Q9.5,2.5 16.5,9.5L16.5,28L0,18.4L-16.5,28L-16.5,9.5Q-9.5,2.5 0,0Z" fill="#161413" transform="translate(1049,108) rotate(4) scale(1.07)"/>
<path d="M0,0Q9.5,2.5 16.5,9.5L16.5,28L0,18.4L-16.5,28L-16.5,9.5Q-9.5,2.5 0,0Z" fill="#161413" transform="translate(784.5,213.5) rotate(4) scale(1.07)"/>
<path d="M0,0Q9.5,2.5 16.5,9.5L16.5,28L0,18.4L-16.5,28L-16.5,9.5Q-9.5,2.5 0,0Z" fill="#161413" transform="translate(979.5,233) rotate(4) scale(1.07)"/>
<path d="M0,0Q9.5,2.5 16.5,9.5L16.5,28L0,18.4L-16.5,28L-16.5,9.5Q-9.5,2.5 0,0Z" fill="#161413" transform="translate(1020,211) rotate(165) scale(1.07)"/>
</g>
<g transform="translate(153.5,457)">
<path d="M780,128.5 L980,128.5 L1051,71.5 L851,71.5Z" fill="#bdbdbd"/>
<path d="M780,128.5L851,71.5M980,128.5L1051,71.5" stroke="#959595" stroke-width="2.2" fill="none"/>
<path d="M780,128.5H980M851,71.5H1051" stroke="#9d9d9d" stroke-width="5.5" fill="none"/>
<path d="M780,211.3 L980,211.3 L1051,154.3 L851,154.3Z" fill="#bdbdbd"/>
<path d="M780,211.3L851,154.3M980,211.3L1051,154.3" stroke="#959595" stroke-width="2.2" fill="none"/>
<path d="M780,211.3H980M851,154.3H1051" stroke="#9d9d9d" stroke-width="5.5" fill="none"/>
<path d="M780,285.5 L980,285.5 L1051,227.5 L851,227.5Z" fill="#bdbdbd"/>
<path d="M780,285.5L851,227.5M980,285.5L1051,227.5" stroke="#959595" stroke-width="2.2" fill="none"/>
<path d="M780,285.5H980M851,227.5H1051" stroke="#9d9d9d" stroke-width="5.5" fill="none"/>
<path d="M880.5,129 L986.5,129 L1018.5,99 L920.5,99Z" fill="#e32b2b" stroke="#a82020" stroke-width="2.2" stroke-linejoin="round"/>
<path d="M854,72V228C854,250 851,265 845,285" stroke="#a0a0a0" stroke-width="5.2" fill="none"/>
<path d="M854,131V151M854,212V225" stroke="#161413" stroke-width="5.2" fill="none"/>
<path d="M0,0Q9.5,2.5 16.5,9.5L16.5,28L0,18.4L-16.5,28L-16.5,9.5Q-9.5,2.5 0,0Z" fill="#8e8e8e" transform="translate(854.5,125) rotate(180) scale(1.08)"/>
<path d="M0,0Q9.5,2.5 16.5,9.5L16.5,28L0,18.4L-16.5,28L-16.5,9.5Q-9.5,2.5 0,0Z" fill="#8e8e8e" transform="translate(838,281) rotate(225) scale(1.0)"/>
<path d="M853,80C853,43 900,21 950,21C1005,21 1049,43 1049,80" stroke="#161413" stroke-width="5.2" fill="none"/>
<path d="M1049,70V228" stroke="#161413" stroke-width="5.2" fill="none"/>
<path d="M784.5,128V286" stroke="#161413" stroke-width="5.2" fill="none"/>
<path d="M784.5,284C785.2,286.2 786.4,292.8 789,297C791.6,301.2 795.9,306.3 800,309C804.1,311.7 809,313 813.5,313C818,313 823,311.7 827,309C831,306.3 835,300.8 837.5,297C840,293.2 841.2,287.8 842,286" stroke="#161413" stroke-width="5.2" fill="none"/>
<path d="M978.3,128L981,314" stroke="#161413" stroke-width="5.2" fill="none"/>
<path d="M978.3,132C978.6,131.3 978.4,128.8 980,128C981.6,127.2 984.7,125.8 988,127C991.3,128.2 996.7,131.7 1000,135C1003.3,138.3 1005.6,142 1008,147C1010.4,152 1013,158.7 1014.5,165C1016,171.3 1016.1,178.7 1017,185C1017.9,191.3 1018.2,198.2 1020,203C1021.8,207.8 1024.7,210.8 1028,214C1031.3,217.2 1035.7,219.7 1040,222C1044.3,224.3 1051.7,227 1054,228" stroke="#161413" stroke-width="5.2" fill="none"/>
<path d="M0,0Q2,-9 8,-15.5L27.5,-15.5L19.5,-1L31.5,17.5L12.5,17.5Q3,10 0,0Z" fill="#161413" transform="translate(949.5,20.5)"/>
<path d="M0,0Q9.5,2.5 16.5,9.5L16.5,28L0,18.4L-16.5,28L-16.5,9.5Q-9.5,2.5 0,0Z" fill="#161413" transform="translate(1049,108) rotate(4) scale(1.07)"/>
<path d="M0,0Q9.5,2.5 16.5,9.5L16.5,28L0,18.4L-16.5,28L-16.5,9.5Q-9.5,2.5 0,0Z" fill="#161413" transform="translate(784.5,213.5) rotate(4) scale(1.07)"/>
<path d="M0,0Q9.5,2.5 16.5,9.5L16.5,28L0,18.4L-16.5,28L-16.5,9.5Q-9.5,2.5 0,0Z" fill="#161413" transform="translate(979.5,233) rotate(4) scale(1.07)"/>
<path d="M0,0Q9.5,2.5 16.5,9.5L16.5,28L0,18.4L-16.5,28L-16.5,9.5Q-9.5,2.5 0,0Z" fill="#161413" transform="translate(1020,211) rotate(165) scale(1.07)"/>
</g>
<path d="M1483.5,678 L1683.5,678 L1754.5,621.5 L1554.5,621.5Z" fill="#bdbdbd"/>
<path d="M1483.5,678L1554.5,621.5M1683.5,678L1754.5,621.5" stroke="#959595" stroke-width="2.2" fill="none"/>
<path d="M1483.5,678H1683.5M1554.5,621.5H1754.5" stroke="#9d9d9d" stroke-width="5.5" fill="none"/>
<path d="M1483.5,752.5 L1683.5,752.5 L1754.5,694.5 L1554.5,694.5Z" fill="#bdbdbd"/>
<path d="M1483.5,752.5L1554.5,694.5M1683.5,752.5L1754.5,694.5" stroke="#959595" stroke-width="2.2" fill="none"/>
<path d="M1483.5,752.5H1683.5M1554.5,694.5H1754.5" stroke="#9d9d9d" stroke-width="5.5" fill="none"/>
<path d="M1482,601 L1583,601 L1620.5,570 L1572,568.5 L1569,563.5 L1620,555 L1654,521 L1557.7,532.6Z" fill="#bdbdbd"/>
<path d="M1620,555 L1654,521 L1751,544 L1724,557Z" fill="#bdbdbd"/>
<path d="M1482,601L1557.7,532.6M1583,601L1620.5,570L1572,568.5M1569,563.5L1620,555L1654,521M1620,555L1724,557L1751,544" stroke="#959595" stroke-width="2.2" fill="none" stroke-linejoin="round"/>
<path d="M1482,601H1583M1557.7,532.6L1654,521L1751,544" stroke="#9d9d9d" stroke-width="5" fill="none" stroke-linejoin="round"/>
<path d="M1566,566.5H1572" stroke="#161413" stroke-width="4" fill="none"/>
<path d="M1558,533V695C1558,717 1555,732 1549,752" stroke="#a0a0a0" stroke-width="5.2" fill="none"/>
<path d="M1558,603.5V619M1558,680.5V692" stroke="#161413" stroke-width="5.2" fill="none"/>
<path d="M0,0Q9.5,2.5 16.5,9.5L16.5,28L0,18.4L-16.5,28L-16.5,9.5Q-9.5,2.5 0,0Z" fill="#8e8e8e" transform="translate(1558,592) rotate(180) scale(1.08)"/>
<path d="M0,0Q9.5,2.5 16.5,9.5L16.5,28L0,18.4L-16.5,28L-16.5,9.5Q-9.5,2.5 0,0Z" fill="#8e8e8e" transform="translate(1541.5,748) rotate(225) scale(1.0)"/>
<path d="M1558,534C1558,504 1603.5,488 1653.5,488C1708,488 1752.8,510 1752.8,547" stroke="#161413" stroke-width="5.2" fill="none"/>
<path d="M1752.8,537V691" stroke="#161413" stroke-width="5.2" fill="none"/>
<path d="M1487,601V753" stroke="#161413" stroke-width="5.2" fill="none"/>
<path d="M1487,751C1487.8,753.2 1488.8,759.8 1491.5,764C1494.2,768.2 1499.2,773.3 1503.5,776C1507.8,778.7 1512.5,780 1517,780C1521.5,780 1526.5,778.7 1530.5,776C1534.5,773.3 1538.5,767.8 1541,764C1543.5,760.2 1544.8,754.8 1545.5,753" stroke="#161413" stroke-width="5.2" fill="none"/>
<path d="M1682.5,781C1682.5,774.2 1682.4,753.5 1682.5,740C1682.6,726.5 1682.8,712.5 1683,700C1683.2,687.5 1683.2,679.2 1684,665C1684.8,650.8 1686.2,627.5 1687.5,615C1688.8,602.5 1690.1,598.2 1692,590C1693.9,581.8 1696.7,572.7 1699,566C1701.3,559.3 1702.8,555.3 1706,550C1709.2,544.7 1713,538.7 1718,534C1723,529.3 1729.7,525.5 1736,522C1742.3,518.5 1748.4,515.3 1756,513C1763.6,510.7 1772.8,506.8 1781.7,508C1790.7,509.2 1802.7,515.2 1809.7,520C1816.8,524.8 1820.8,531.7 1824,537C1827.2,542.3 1827.8,547.7 1828.6,552C1829.4,556.3 1828.6,561.2 1828.6,563" stroke="#161413" stroke-width="5.2" fill="none"/>
<path d="M1595,619 L1625,579 L1722,556 L1695,596Z" fill="#e32b2b" stroke="#a82020" stroke-width="2.2" stroke-linejoin="round"/>
<path d="M1821.5,578C1820,580 1816.3,586.7 1812.6,589.8C1808.9,592.9 1803,593.9 1799.4,596.4C1795.8,598.9 1793.4,600.9 1791.2,604.7C1789,608.6 1786.8,613.7 1786.2,619.5C1785.7,625.3 1787.4,633.8 1787.9,639.3C1788.5,644.8 1789.5,648.1 1789.5,652.5C1789.5,656.9 1789.8,661.3 1787.9,665.7C1786,670.1 1781.8,675.3 1778,678.9C1774.2,682.5 1768.9,685.3 1764.8,687.2C1760.7,689.1 1755.1,690 1753.2,690.5" stroke="#161413" stroke-width="5.2" fill="none"/>
<path d="M0,0Q2,-9 8,-15.5L27.5,-15.5L19.5,-1L31.5,17.5L12.5,17.5Q3,10 0,0Z" fill="#161413" transform="translate(1656,489.5)"/>
<path d="M0,0Q9.5,2.5 16.5,9.5L16.5,28L0,18.4L-16.5,28L-16.5,9.5Q-9.5,2.5 0,0Z" fill="#161413" transform="translate(1752.8,575) rotate(4) scale(1.07)"/>
<path d="M0,0Q9.5,2.5 16.5,9.5L16.5,28L0,18.4L-16.5,28L-16.5,9.5Q-9.5,2.5 0,0Z" fill="#161413" transform="translate(1487,681.6) rotate(4) scale(1.07)"/>
<path d="M0,0Q9.5,2.5 16.5,9.5L16.5,28L0,18.4L-16.5,28L-16.5,9.5Q-9.5,2.5 0,0Z" fill="#161413" transform="translate(1683,699) rotate(4) scale(1.07)"/>
<path d="M0,0Q9.5,2.5 16.5,9.5L16.5,28L0,18.4L-16.5,28L-16.5,9.5Q-9.5,2.5 0,0Z" fill="#161413" transform="translate(1821.5,578) rotate(196) scale(1.07)"/>
</svg></body></html>
